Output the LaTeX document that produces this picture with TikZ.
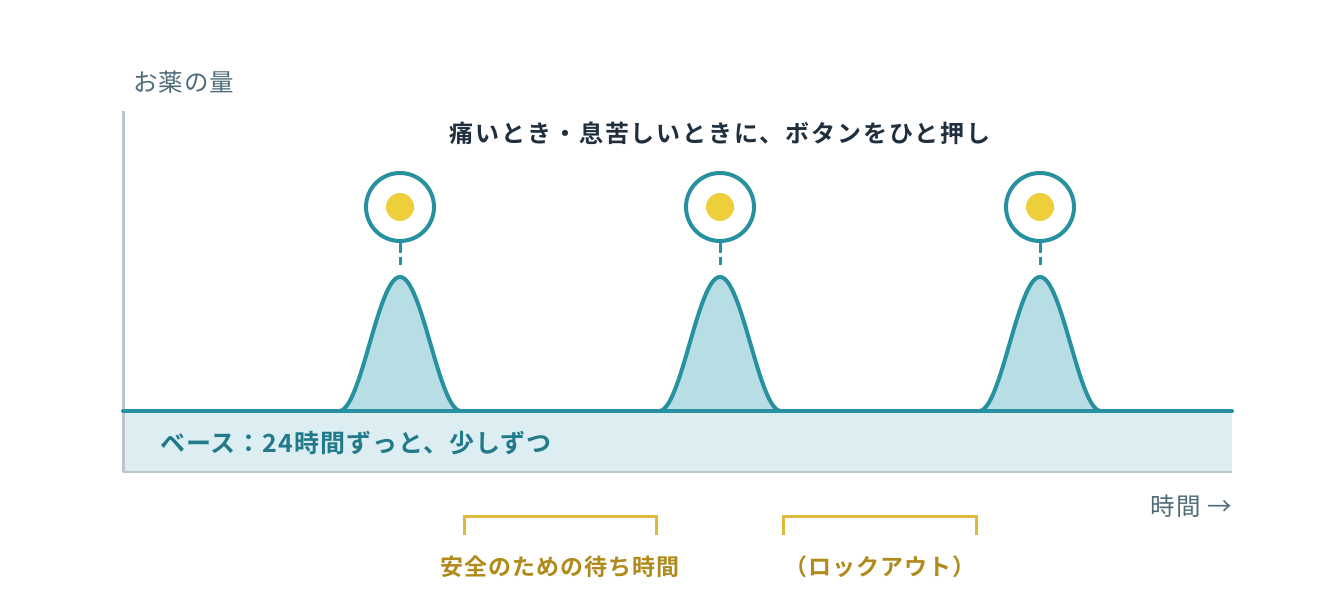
\documentclass[tikz,border=0pt]{standalone}
\usepackage{fontspec}
\setmainfont{Noto Sans CJK JP}[BoldFont={* Bold}]
\definecolor{teal}{HTML}{2891A0}
\definecolor{peakfill}{HTML}{B7DEE4}
\definecolor{bandfill}{HTML}{DCEEF2}
\definecolor{axisgray}{HTML}{B9C6CB}
\definecolor{titlecol}{HTML}{1F2F3D}
\definecolor{basetext}{HTML}{21798A}
\definecolor{graytext}{HTML}{4E6C78}
\definecolor{goldline}{HTML}{DDBA3E}
\definecolor{goldtext}{HTML}{B08A1C}
\definecolor{dotyellow}{HTML}{ECCF3A}
\begin{document}
\begin{tikzpicture}[x=1pt,y=-1pt,
  peakshape/.style={draw=teal,fill=peakfill,line width=4pt,line join=round},
  button/.style={circle,draw=teal,fill=white,line width=4pt,minimum size=68pt,inner sep=0pt},
  dotmark/.style={circle,fill=dotyellow,minimum size=28pt,inner sep=0pt},
  linkdash/.style={draw=teal,line width=3pt,dash pattern=on 10pt off 4pt},
  bracketline/.style={draw=goldline,line width=3pt},
  axislabel/.style={text=graytext,font=\fontsize{24.5}{28}\selectfont\addfontfeature{LetterSpace=4},inner sep=0pt},
  goldlabel/.style={text=goldtext,font=\fontsize{23}{27}\selectfont\bfseries\addfontfeature{LetterSpace=4},inner sep=0pt}
]
\useasboundingbox (0,0) rectangle (1320,600);
% base band
\fill[bandfill] (123,411) rectangle (1232,472);
\draw[axisgray,line width=2pt] (123,472) -- (1232,472);
% y axis
\draw[axisgray,line width=3pt] (123,111) -- (123,472);
% peaks
\foreach \c/\n in {400/a,720/b,1040/c}{
  \filldraw[peakshape] plot[domain=-61:61,samples=81] ({\c+\x},{411-134*(1+cos(180*\x/61))/2});
  \coordinate (top\n) at (\c,265);
}
% baseline
\draw[teal,line width=4pt,line cap=round] (123,411) -- (1232,411);
% buttons
\foreach \c/\n in {400/a,720/b,1040/c}{
  \node[button] (btn\n) at (\c,207) {};
  \node[dotmark] (dot\n) at (\c,207) {};
  \draw[linkdash] (btn\n.south) -- (top\n);
}
% texts
\node[axislabel,anchor=west] (ylabel) at (133,82) {お薬の量};
\node[text=titlecol,font=\fontsize{24}{28}\selectfont\bfseries\addfontfeature{LetterSpace=8},inner sep=0pt] (title) at (720,133) {痛いとき・息苦しいときに、ボタンをひと押し};
\node[text=basetext,font=\fontsize{25}{29}\selectfont\bfseries\addfontfeature{LetterSpace=4},inner sep=0pt,anchor=west] (basel) at (160,443) {ベース：24時間ずっと、少しずつ};
\node[axislabel,anchor=east] (xlabel) at (1232,506) {時間\ →};
% brackets
\coordinate (b1l) at (464,535); \coordinate (b1r) at (656,535);
\coordinate (b2l) at (783,535); \coordinate (b2r) at (976,535);
\draw[bracketline] (b1l) -- ++(0,-19) -| (b1r);
\draw[bracketline] (b2l) -- ++(0,-19) -| (b2r);
\node[goldlabel] (wait) at (560,567) {安全のための待ち時間};
\node[goldlabel] (lock) at (880,567) {（ロックアウト）};
\end{tikzpicture}
\end{document}
